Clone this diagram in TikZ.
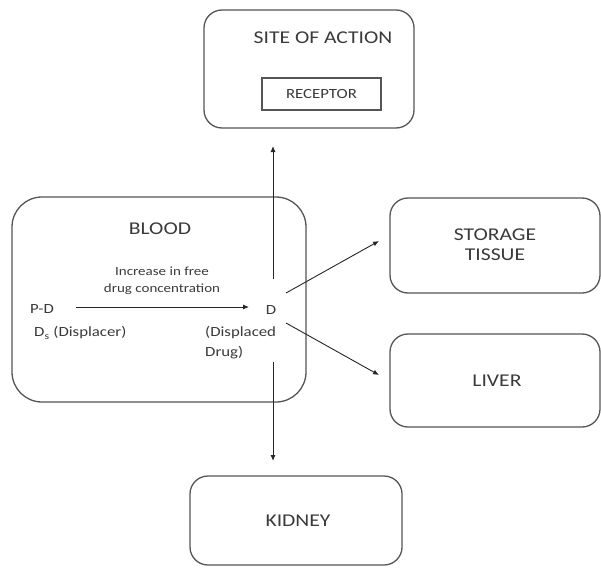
\documentclass[tikz,border=0pt]{standalone}
\usepackage{fontspec}
\setmainfont{Carlito}[FakeStretch=1.2]
\usetikzlibrary{arrows.meta}
\definecolor{edge}{HTML}{555555}
\definecolor{txt}{HTML}{3A3A3A}
\begin{document}
\begin{tikzpicture}[x=1pt,y=-1pt,
  box/.style={draw=edge,line width=1.3pt,rounded corners=18pt},
  lbl/.style={text=txt,font=\fontsize{18}{20}\selectfont,align=center,inner sep=0pt},
  sml/.style={text=txt,font=\fontsize{14}{20}\selectfont,inner sep=0pt},
  tiny/.style={text=txt,font=\fontsize{12.5}{17}\selectfont,align=center,inner sep=0pt},
  arr/.style={draw=black!85,line width=0.9pt,-{Latex[length=6pt,width=5pt]}}]
\useasboundingbox (0,0) rectangle (601,567);
% boxes
\node[box,minimum width=210pt,minimum height=118pt] (site) at (309,69) {};
\node[lbl] (sitet) at (323,38) {SITE OF ACTION};
\node[draw=edge,line width=1.1pt,minimum width=119pt,minimum height=32pt,inner sep=0pt,text=txt,font=\fontsize{14}{16}\selectfont] (rec) at (321.5,94) {RECEPTOR};
\node[box,rounded corners=30pt,minimum width=294pt,minimum height=205pt] (blood) at (159,299.5) {};
\node[lbl] (bloodt) at (160,229) {BLOOD};
\node[box,minimum width=210pt,minimum height=95pt] (stor) at (495,245.5) {};
\node[lbl] (stort) at (495,245) {STORAGE\\TISSUE};
\node[box,minimum width=210pt,minimum height=93pt] (liver) at (495,380.5) {};
\node[lbl] (livert) at (497,381) {LIVER};
\node[box,minimum width=212pt,minimum height=89pt] (kid) at (296,520.5) {};
\node[lbl] (kidt) at (298,521) {KIDNEY};
% blood contents
\node[tiny] (inc) at (162,281) {Increase in free\\drug concentration};
\node[sml,anchor=west] (pd) at (30,309) {P-D};
\node[sml,anchor=west] (ds) at (34,333) {D\textsubscript{s} (Displacer)};
\node[sml] (d) at (271,310) {D};
\node[sml,align=left,anchor=west] (dd) at (205,343) {(Displaced\\Drug)};
\coordinate (hs) at (76,307);
\coordinate (he) at (249,307);
\draw[arr] (hs) -- (he);
% connectors
\coordinate (up0) at (273,279);
\coordinate (up1) at (273,146);
\draw[arr] (up0) -- (up1);
\coordinate (dn0) at (273,362);
\coordinate (dn1) at (273,461);
\draw[arr] (dn0) -- (dn1);
\coordinate (st0) at (286,293);
\coordinate (st1) at (379,241);
\draw[arr] (st0) -- (st1);
\coordinate (lv0) at (286,323);
\coordinate (lv1) at (379,375);
\draw[arr] (lv0) -- (lv1);
\end{tikzpicture}
\end{document}
